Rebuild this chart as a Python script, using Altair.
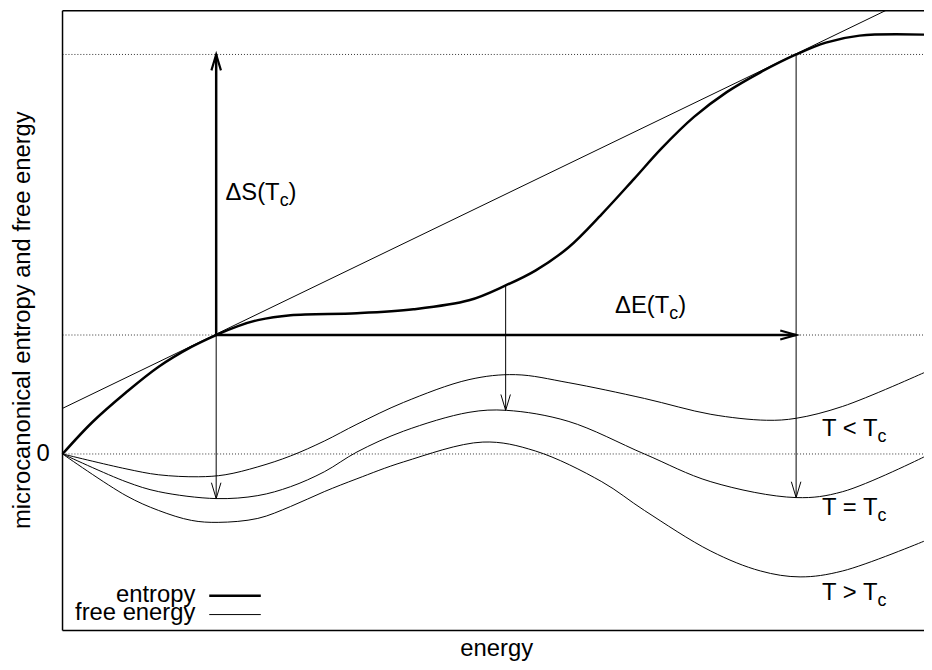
import altair as alt
import pandas as pd

# ---------------- data ----------------
# energy axis runs 0 .. 8.69 (plot width), value axis -1.78 .. 4.47
E_MAX = 8.69
Y_MIN, Y_MAX = -1.78, 4.47

# microcanonical entropy S(E)
entropy_E = [0.00, 0.30, 0.64, 0.97, 1.30, 1.55, 1.77, 1.97, 2.30, 2.97, 3.54,
             4.10, 4.47, 4.77, 5.10, 5.44, 5.77, 6.04, 6.37, 6.70, 7.04, 7.40,
             7.70, 8.04, 8.69]
entropy_S = [0.00, 0.32, 0.62, 0.88, 1.08, 1.20, 1.29, 1.35, 1.40, 1.42, 1.46,
             1.55, 1.70, 1.85, 2.08, 2.42, 2.78, 3.08, 3.40, 3.65, 3.85, 4.03,
             4.15, 4.22, 4.23]

# free energy curves
fe_low_E = [0.00, 0.64, 0.97, 1.37, 1.64, 1.97, 2.30, 2.64, 2.97, 3.44, 4.10,
            4.57, 5.10, 5.87, 6.54, 7.10, 7.40, 7.87, 8.69]
fe_low_F = [0.00, -0.15, -0.21, -0.23, -0.21, -0.13, -0.02, 0.13, 0.30, 0.52,
            0.75, 0.80, 0.72, 0.56, 0.40, 0.34, 0.36, 0.48, 0.82]

fe_crit_E = [0.00, 0.64, 0.97, 1.55, 1.97, 2.30, 2.64, 2.97, 3.44, 4.10, 4.48,
             5.10, 5.87, 6.54, 7.40, 7.87, 8.69]
fe_crit_F = [0.00, -0.28, -0.38, -0.45, -0.42, -0.33, -0.18, 0.02, 0.23, 0.42,
             0.44, 0.33, 0.00, -0.28, -0.44, -0.38, -0.03]

fe_high_E = [0.00, 0.64, 0.97, 1.30, 1.57, 1.97, 2.30, 2.64, 2.97, 3.44, 4.24,
             4.77, 5.44, 5.87, 6.54, 7.04, 7.44, 7.87, 8.69]
fe_high_F = [0.00, -0.42, -0.57, -0.67, -0.69, -0.65, -0.53, -0.38, -0.25,
             -0.08, 0.12, 0.03, -0.28, -0.57, -0.98, -1.18, -1.24, -1.18, -0.88]

# common tangent (slope 1/Tc)
tangent_E = [0.00, 8.69]
tangent_S = [0.46, 4.66]

# dotted reference levels
levels = [0.00, 1.20, 4.03]

# key points
E1, E2, EM = 1.55, 7.40, 4.47
S1, S2, SM = 1.20, 4.03, 1.70
F1, F2, FM = -0.45, -0.44, 0.44

# labels: (main text, E anchor, value anchor)
label_main = ["\u0394S(T", "\u0394E(T", "T < T", "T = T", "T > T"]
label_E = [2.19, 6.12, 8.22, 8.22, 8.22]
label_V = [2.56, 1.42, 0.18, -0.62, -1.47]
label_close = [")", ")", "", "", ""]

# ---------------- layout ----------------
W, H = 869, 625
FONT = "Liberation Sans"
CURVE = "catmull-rom"

xs = alt.Scale(domain=[0, E_MAX], nice=False, zero=False)
ys = alt.Scale(domain=[Y_MIN, Y_MAX], nice=False, zero=False)


def X(f):
    return alt.X(f, type="quantitative", scale=xs, axis=None)


def Y(f):
    return alt.Y(f, type="quantitative", scale=ys, axis=None)


one = pd.DataFrame({"a": [0]})

dotted = alt.Chart(pd.DataFrame({"lv": levels})).mark_rule(
    color="#333", strokeWidth=1, strokeDash=[1, 2]
).encode(y=Y("lv"), x=alt.value(0), x2=alt.value(W))

tangent = alt.Chart(pd.DataFrame({"E": tangent_E, "S": tangent_S})).mark_line(
    color="black", strokeWidth=1, clip=True
).encode(x=X("E"), y=Y("S"))

fe_df = pd.concat([
    pd.DataFrame({"E": fe_low_E, "F": fe_low_F, "s": "T < Tc"}),
    pd.DataFrame({"E": fe_crit_E, "F": fe_crit_F, "s": "T = Tc"}),
    pd.DataFrame({"E": fe_high_E, "F": fe_high_F, "s": "T > Tc"}),
])
free = alt.Chart(fe_df).mark_line(
    color="black", strokeWidth=1, interpolate=CURVE
).encode(x=X("E"), y=Y("F"), detail="s:N")

entropy = alt.Chart(pd.DataFrame({"E": entropy_E, "S": entropy_S})).mark_line(
    color="black", strokeWidth=2.5, interpolate=CURVE
).encode(x=X("E"), y=Y("S"))

shafts_df = pd.DataFrame({
    "x": [E1, E1, E1, EM, E2],
    "y": [S1, S1, S1, SM, S2],
    "x2": [E1, E2, E1, EM, E2],
    "y2": [S2, S1, F1, FM, F2],
    "w": [2.5, 2.5, 1, 1, 1],
})
shafts = alt.Chart(shafts_df).mark_rule(color="black").encode(
    x=X("x"), y=Y("y"), x2="x2:Q", y2="y2:Q",
    strokeWidth=alt.StrokeWidth("w:Q", scale=None),
)

UP = "M-0.3,1L0,0L0.3,1"
DOWN = "M-0.3,-1L0,0L0.3,-1"
RIGHT = "M-1,-0.28L0,0L-1,0.28"
heads_df = pd.DataFrame({
    "x": [E1, E2, E1, EM, E2],
    "y": [S2, S1, F1, FM, F2],
    "shape": [UP, RIGHT, DOWN, DOWN, DOWN],
    "w": [2.2, 2.2, 1, 1, 1],
})
heads = alt.Chart(heads_df).mark_point(
    filled=False, color="black", opacity=1, size=1024
).encode(
    x=X("x"), y=Y("y"),
    shape=alt.Shape("shape:N", scale=None),
    strokeWidth=alt.StrokeWidth("w:Q", scale=None),
)

lab_df = pd.DataFrame({"t": label_main, "c": ["c"] * 5, "p": label_close,
                       "E": label_E, "V": label_V})
lab_main = alt.Chart(lab_df).mark_text(
    align="right", baseline="alphabetic", fontSize=24, font=FONT, color="black"
).encode(x=X("E"), y=Y("V"), text="t:N")
lab_sub = alt.Chart(lab_df).mark_text(
    align="left", baseline="alphabetic", fontSize=18, font=FONT, color="black", dy=6
).encode(x=X("E"), y=Y("V"), text="c:N")
lab_close = alt.Chart(lab_df).mark_text(
    align="left", baseline="alphabetic", fontSize=24, font=FONT, color="black", dx=9
).encode(x=X("E"), y=Y("V"), text="p:N")

zero_lab = alt.Chart(pd.DataFrame({"v": [0], "t": ["0"]})).mark_text(
    align="right", baseline="middle", fontSize=24, font=FONT, color="black"
).encode(x=alt.value(-13), y=Y("v"), text="t:N")

ytitle = alt.Chart(pd.DataFrame({"t": ["microcanonical entropy and free energy"]})).mark_text(
    angle=270, align="center", baseline="middle", fontSize=24, font=FONT, color="black"
).encode(x=alt.value(-40), y=alt.value(312), text="t:N")

xtitle = alt.Chart(pd.DataFrame({"t": ["energy"]})).mark_text(
    align="center", baseline="alphabetic", fontSize=24, font=FONT, color="black"
).encode(x=alt.value(438), y=alt.value(651), text="t:N")

# legend
leg_txt = alt.Chart(pd.DataFrame({"t": ["entropy", "free energy"], "yy": [596, 614]})).mark_text(
    align="right", baseline="alphabetic", fontSize=24, font=FONT, color="black"
).encode(x=alt.value(134), y=alt.Y("yy:Q", scale=None, axis=None), text="t:N")
leg_thick = alt.Chart(one).mark_rule(color="black", strokeWidth=2.5).encode(
    x=alt.value(148), x2=alt.value(200), y=alt.value(590))
leg_thin = alt.Chart(one).mark_rule(color="black", strokeWidth=1).encode(
    x=alt.value(148), x2=alt.value(200), y=alt.value(609))

# frame (left, top, bottom; right edge is outside the picture)
b_top = alt.Chart(one).mark_rule(color="black", strokeWidth=1.5).encode(
    x=alt.value(0), x2=alt.value(W), y=alt.value(0))
b_bot = alt.Chart(one).mark_rule(color="black", strokeWidth=1.5).encode(
    x=alt.value(0), x2=alt.value(W), y=alt.value(H))
b_left = alt.Chart(one).mark_rule(color="black", strokeWidth=1.5).encode(
    x=alt.value(0), y=alt.value(0), y2=alt.value(H))

chart = alt.layer(
    dotted, tangent, free, entropy, shafts, heads,
    lab_main, lab_sub, lab_close, zero_lab, ytitle, xtitle,
    leg_txt, leg_thick, leg_thin, b_top, b_bot, b_left,
).properties(
    width=W, height=H, autosize="none",
    padding={"left": 55, "top": 0, "right": 0, "bottom": 31},
).configure_view(stroke=None)

chart.save("out.html", embed_options={"renderer": "svg", "actions": False})
